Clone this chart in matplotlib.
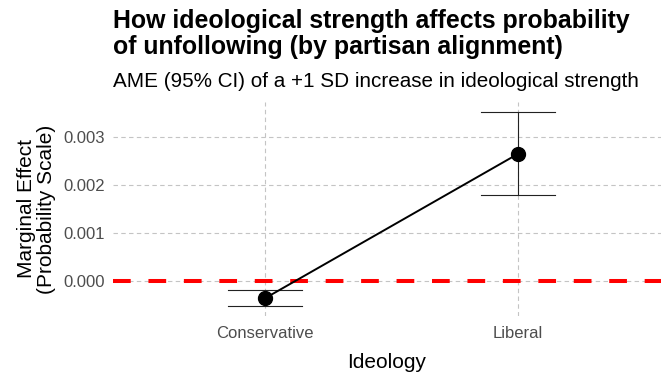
import matplotlib
matplotlib.use("Agg")
import matplotlib.pyplot as plt

plt.rcParams['font.family'] = ['Liberation Sans', 'DejaVu Sans']

# Average marginal effects with 95% confidence intervals
ideology = ["Conservative", "Liberal"]
ame = [-0.00036, 0.00265]
ci_low = [-0.00052, 0.001785]
ci_high = [-0.000188, 0.00352]
y_ticks = [0.000, 0.001, 0.002, 0.003]

W, H = 661, 378
fig = plt.figure(figsize=(W / 100, H / 100), dpi=100)
# panel in pixel coordinates: left, top, right, bottom
L, T, R, B = 113, 102, 661, 316
ax = fig.add_axes([L / W, 1 - B / H, (R - L) / W, (B - T) / H])

x = [1, 2]
ax.set_xlim(0.399, 2.565)
ax.set_ylim(-0.00073, 0.00373)

grid_kw = dict(color="#c4c4c4", lw=0.8, linestyle=(0, (4, 3)), zorder=0)
for yt in y_ticks:
    ax.axhline(yt, **grid_kw)
for xt in x:
    ax.axvline(xt, **grid_kw)

ax.axhline(0, color="#ff0000", lw=2.9, dashes=(4.4, 4.4), zorder=1)

# error bars with caps
cap_half = 0.148
for xi, lo, hi in zip(x, ci_low, ci_high):
    ax.plot([xi, xi], [lo, hi], color="#222222", lw=0.8, zorder=2)
    ax.plot([xi - cap_half, xi + cap_half], [lo, lo], color="#222222", lw=0.8, zorder=2)
    ax.plot([xi - cap_half, xi + cap_half], [hi, hi], color="#222222", lw=0.8, zorder=2)

ax.plot(x, ame, color="black", lw=1.4, zorder=3)
ax.plot(x, ame, "o", color="black", markersize=10, zorder=4)

ax.set_yticks(y_ticks)
ax.set_yticklabels([f"{v:.3f}" for v in y_ticks])
ax.set_xticks(x)
ax.set_xticklabels(ideology)
ax.tick_params(axis="both", length=0, labelsize=12, labelcolor="#4d4d4d")
ax.tick_params(axis="y", pad=6)
ax.tick_params(axis="x", pad=7)
for s in ax.spines.values():
    s.set_visible(False)

ax.set_xlabel("Ideology", fontsize=15, color="black", labelpad=9)
ax.set_ylabel("Marginal Effect\n(Probability Scale)", fontsize=15, color="black", labelpad=5, linespacing=1.1)

fig.text(L / W, 1 - 9 / H, "How ideological strength affects probability\nof unfollowing (by partisan alignment)",
         fontsize=17.9, fontweight="bold", ha="left", va="top", linespacing=1.12)
fig.text(L / W, 1 - 72 / H, "AME (95% CI) of a +1 SD increase in ideological strength",
         fontsize=14.9, ha="left", va="top")

fig.savefig("out.png", dpi=100)
